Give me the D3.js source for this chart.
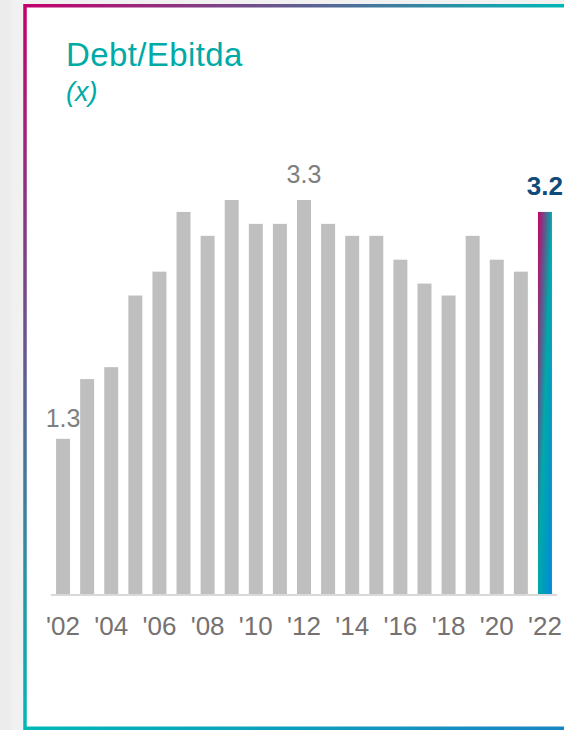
<!DOCTYPE html>
<html>
<head>
<meta charset="utf-8">
<script src="https://cdn.jsdelivr.net/npm/d3@7"></script>
<style>
  html, body { margin: 0; padding: 0; background: #efefef; }
  svg { display: block; }
  text { font-family: "Liberation Sans", Arial, Helvetica, sans-serif; }
</style>
</head>
<body>
<svg id="chart" width="564" height="730"></svg>
<script>
// Debt/Ebitda ratio by year
const years = d3.range(2002, 2023);
const values = [1.3, 1.8, 1.9, 2.5, 2.7, 3.2, 3.0, 3.3, 3.1, 3.1, 3.3,
                3.1, 3.0, 3.0, 2.8, 2.6, 2.5, 3.0, 2.8, 2.7, 3.2];
const tickYears = [2002, 2004, 2006, 2008, 2010, 2012, 2014, 2016, 2018, 2020, 2022];
const tickLabels = ["'02", "'04", "'06", "'08", "'10", "'12", "'14", "'16", "'18", "'20", "'22"];
const labelledYears = [2002, 2012];
const highlightYear = 2022;
const title = "Debt/Ebitda";
const unit = "(x)";

const data = years.map((y, i) => ({ year: y, value: values[i] }));

const svg = d3.select("#chart");
const W = 564, H = 730;

const defs = svg.append("defs");

// frame gradient: magenta at top-left, teal along the far edges, blue at bottom-right
const fg = defs.append("linearGradient")
  .attr("id", "frameGrad")
  .attr("gradientUnits", "userSpaceOnUse")
  .attr("x1", 24).attr("y1", 6);
(() => {
  // point on the teal diagonal closest to the top-left corner
  const ax = 24, ay = 6, bx = 564, by = 6, cx = 24, cy = 728;
  const dx = cx - bx, dy = cy - by;
  const t = ((ax - bx) * dx + (ay - by) * dy) / (dx * dx + dy * dy);
  const px = bx + t * dx, py = by + t * dy;
  fg.attr("x2", ax + 2 * (px - ax)).attr("y2", ay + 2 * (py - ay));
})();
fg.append("stop").attr("offset", "0%").attr("stop-color", "#c4006c");
fg.append("stop").attr("offset", "50%").attr("stop-color", "#00b8b6");
fg.append("stop").attr("offset", "100%").attr("stop-color", "#1a84c4");

// highlighted bar gradient
const bg = defs.append("linearGradient")
  .attr("id", "barGrad")
  .attr("x1", "0").attr("y1", "0").attr("x2", "1").attr("y2", "1");
bg.append("stop").attr("offset", "0%").attr("stop-color", "#c8006a");
bg.append("stop").attr("offset", "50%").attr("stop-color", "#00a9aa");
bg.append("stop").attr("offset", "100%").attr("stop-color", "#0088da");

// page background and panel
svg.append("rect").attr("x", 0).attr("y", 0).attr("width", W).attr("height", H).attr("fill", "#ececec");
svg.append("rect").attr("x", 11).attr("y", 0).attr("width", W).attr("height", H).attr("fill", "#f1f1f1");
svg.append("rect")
  .attr("x", 25).attr("y", 5.75)
  .attr("width", W + 20).attr("height", 722.5)
  .attr("fill", "#ffffff")
  .attr("stroke", "url(#frameGrad)")
  .attr("stroke-width", 3.5);

// title
svg.append("text")
  .attr("x", 66).attr("y", 66)
  .attr("fill", "#00aaa6")
  .attr("font-size", 33)
  .attr("letter-spacing", 0.4)
  .text(title);
svg.append("text")
  .attr("x", 66).attr("y", 101)
  .attr("fill", "#00aaa6")
  .attr("font-size", 27)
  .attr("font-style", "italic")
  .text(unit);

// scales
const x = d3.scaleBand()
  .domain(years)
  .range([51, 557])
  .paddingInner(0.42)
  .paddingOuter(0.21);

const y = d3.scaleLinear()
  .domain([0, 3.3])
  .range([594, 200]);

// bars
svg.append("g").selectAll("rect")
  .data(data)
  .join("rect")
  .attr("x", d => x(d.year))
  .attr("y", d => y(d.value))
  .attr("width", x.bandwidth())
  .attr("height", d => y(0) - y(d.value))
  .attr("fill", d => d.year === highlightYear ? "url(#barGrad)" : "#bfbfbf");

// baseline
svg.append("line")
  .attr("x1", 51).attr("x2", 557)
  .attr("y1", 595).attr("y2", 595)
  .attr("stroke", "#d9d9d9")
  .attr("stroke-width", 2);

// x axis labels
const xAxis = d3.axisBottom(x)
  .tickValues(tickYears)
  .tickFormat(d => tickLabels[tickYears.indexOf(d)])
  .tickSize(0)
  .tickPadding(0);
const gx = svg.append("g").attr("transform", "translate(0,595)").call(xAxis);
gx.select(".domain").remove();
gx.selectAll("text")
  .attr("y", 0)
  .attr("dy", 40)
  .attr("font-size", 26)
  .attr("font-family", "Liberation Sans, Arial, sans-serif")
  .attr("fill", "#767171");

// value labels
const labelGap = { 2002: 12, 2012: 17 };
svg.append("g").selectAll("text")
  .data(data.filter(d => labelledYears.includes(d.year)))
  .join("text")
  .attr("x", d => x(d.year) + x.bandwidth() / 2)
  .attr("y", d => y(d.value) - labelGap[d.year])
  .attr("text-anchor", "middle")
  .attr("font-size", 25)
  .attr("fill", "#7f7f7f")
  .text(d => d.value.toFixed(1));

const hl = data.find(d => d.year === highlightYear);
svg.append("text")
  .attr("x", x(hl.year) + x.bandwidth() / 2)
  .attr("y", y(hl.value) - 17)
  .attr("text-anchor", "middle")
  .attr("font-size", 26)
  .attr("font-weight", "bold")
  .attr("fill", "#0f4a78")
  .text(hl.value.toFixed(1));
</script>
</body>
</html>
